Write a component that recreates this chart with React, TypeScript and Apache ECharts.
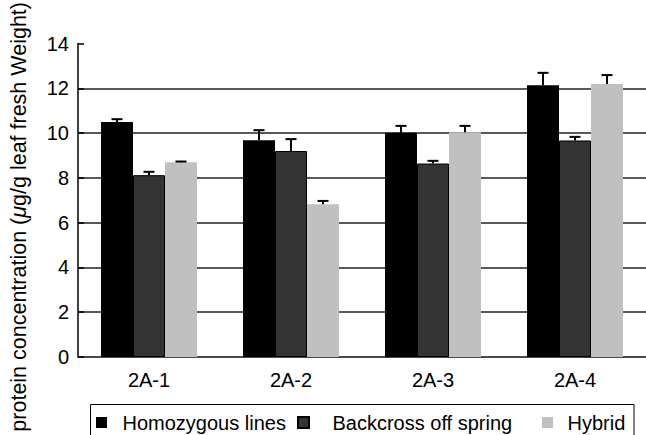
import React, { useEffect, useRef } from 'react';
import * as echarts from 'echarts';

const categories = ['2A-1', '2A-2', '2A-3', '2A-4'];
const seriesNames = ['Homozygous lines', 'Backcross off spring', 'Hybrid'];
const homozygous = [10.5, 9.68, 10.01, 12.14];
const homozygousErr = [0.12, 0.45, 0.31, 0.55];
const backcross = [8.12, 9.2, 8.64, 9.67];
const backcrossErr = [0.15, 0.53, 0.12, 0.16];
const hybrid = [8.7, 6.82, 10.04, 12.19];
const hybridErr = [0.03, 0.15, 0.28, 0.4];
const yMin = 0;
const yMax = 14;
const yStep = 2;
const yAxisTitle = 'protein concentration ({i|μ}g/g leaf fresh Weight)';

const FONT = "'Liberation Sans', Arial, sans-serif";
const COLORS = ['#000000', '#333333', '#c0c0c0'];
const BAR_W = 32;

function errSeries(vals: number[], errs: number[], offset: number) {
  return {
    type: 'custom',
    silent: true,
    z: 5,
    data: vals.map((v, i) => [i, v, v + errs[i]]),
    encode: { x: 0, y: [1, 2] },
    renderItem: (_params: any, api: any) => {
      const base = api.coord([api.value(0), api.value(1)]);
      const top = api.coord([api.value(0), api.value(2)]);
      const x = base[0] + offset;
      return {
        type: 'group',
        children: [
          { type: 'line', shape: { x1: x, y1: base[1], x2: x, y2: top[1] }, style: { stroke: '#000', lineWidth: 2 } },
          { type: 'line', shape: { x1: x - 5.5, y1: top[1], x2: x + 5.5, y2: top[1] }, style: { stroke: '#000', lineWidth: 2 } },
        ],
      };
    },
  };
}

export default function App() {
  const ref = useRef<HTMLDivElement>(null);
  useEffect(() => {
    document.body.style.margin = '0';
    const chart = echarts.init(ref.current!, null, { renderer: 'svg' });
    const gridColors: string[] = [];
    for (let v = yMin; v <= yMax; v += yStep) gridColors.push(v === yMax ? 'rgba(0,0,0,0)' : '#222');
    const legendItem = (name: string, left: number, pad: number) => ({
      data: [name],
      left,
      top: 412.5,
      padding: 0,
      itemWidth: 11,
      itemHeight: 11,
      icon: 'rect',
      selectedMode: false,
      textStyle: { fontSize: 20, fontFamily: FONT, color: '#000', lineHeight: 20, padding: [0, 0, 0, pad] },
    });
    chart.setOption({
      animation: false,
      textStyle: { fontFamily: FONT },
      grid: { left: 78, top: 43.5, width: 572, height: 313.5, containLabel: false },
      xAxis: {
        type: 'category',
        data: categories,
        boundaryGap: true,
        axisLine: { lineStyle: { color: '#444', width: 1.5 } },
        axisTick: { inside: true, length: 6, lineStyle: { color: '#000', width: 1.5 } },
        axisLabel: { fontSize: 20, fontFamily: FONT, color: '#000', margin: 13 },
      },
      yAxis: {
        type: 'value',
        min: yMin,
        max: yMax,
        interval: yStep,
        axisLine: { show: true, lineStyle: { color: '#000', width: 1.5 } },
        axisTick: { show: true, inside: true, length: 6, lineStyle: { color: '#000', width: 1.5 } },
        axisLabel: { fontSize: 20, fontFamily: FONT, color: '#000', margin: 9 },
        splitLine: { show: true, lineStyle: { color: gridColors, width: 1.5 } },
      },
      legend: [
        legendItem(seriesNames[0], 96, 10.5),
        legendItem(seriesNames[1], 297, 18.5),
        legendItem(seriesNames[2], 542, 9.5),
      ],
      graphic: [
        {
          type: 'rect',
          z: 0,
          shape: { x: 90.5, y: 404.5, width: 543.5, height: 40 },
          style: { fill: 'none', stroke: '#000', lineWidth: 1 },
        },
        {
          type: 'text',
          x: 19,
          y: 2,
          rotation: Math.PI / 2,
          style: {
            text: yAxisTitle,
            fontSize: 21.5,
            fontFamily: FONT,
            fill: '#000',
            align: 'right',
            verticalAlign: 'middle',
            textAlign: 'right',
            textVerticalAlign: 'middle',
            rich: { i: { fontStyle: 'italic', fontSize: 21.5, fontFamily: FONT, fill: '#000' } },
          },
        },
      ],
      series: [
        { name: seriesNames[0], type: 'bar', data: homozygous, barWidth: BAR_W, barGap: '0%', itemStyle: { color: COLORS[0] } },
        { name: seriesNames[1], type: 'bar', data: backcross, barWidth: BAR_W, barGap: '0%', itemStyle: { color: COLORS[1], borderColor: '#000', borderWidth: 1 } },
        { name: seriesNames[2], type: 'bar', data: hybrid, barWidth: BAR_W, barGap: '0%', itemStyle: { color: COLORS[2] } },
        errSeries(homozygous, homozygousErr, -BAR_W),
        errSeries(backcross, backcrossErr, 0),
        errSeries(hybrid, hybridErr, BAR_W),
      ],
    });
    return () => chart.dispose();
  }, []);
  return <div ref={ref} style={{ position: 'absolute', left: 0, top: 0, width: 646, height: 435 }} />;
}
